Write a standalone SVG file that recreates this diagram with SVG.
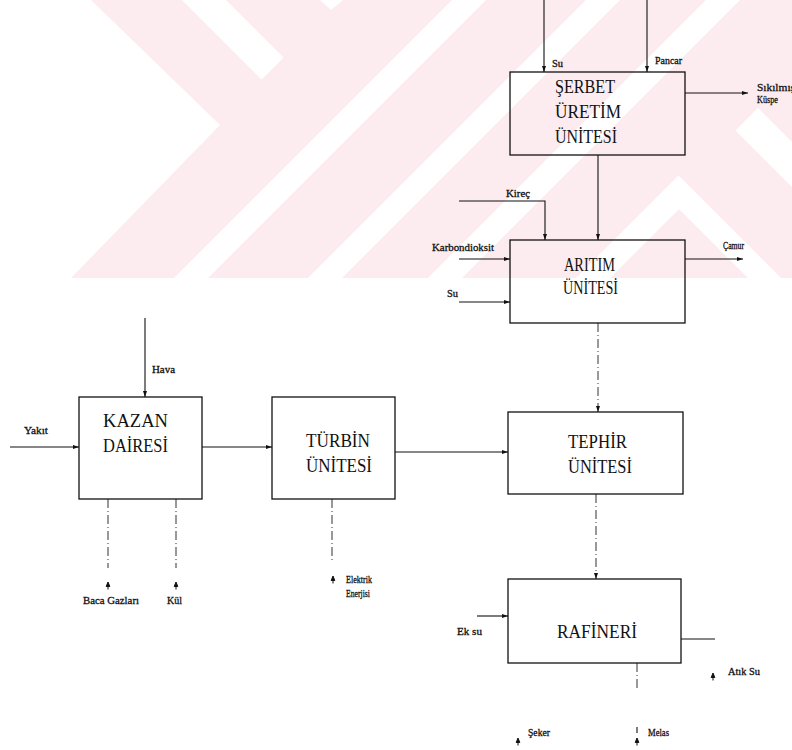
<svg xmlns="http://www.w3.org/2000/svg" width="792" height="750" viewBox="0 0 792 750">
<style>
.box{fill:none;stroke:#111;stroke-width:1.3}
.ln{fill:none;stroke:#111;stroke-width:1.1}
.dd{fill:none;stroke:#333;stroke-width:1;stroke-dasharray:9 3 1 3}
.big{font-family:"Liberation Serif","Times New Roman",serif;font-size:19px;fill:#111}
.sm{font-family:"Liberation Serif","Times New Roman",serif;font-size:10.5px;fill:#111;stroke:#111;stroke-width:0.3}
.wm{fill:#fdecef}
.wh{fill:#fff}
</style>
<defs>
<marker id="ah" viewBox="0 0 6 4" refX="6" refY="2" markerWidth="6" markerHeight="4" orient="auto" markerUnits="userSpaceOnUse"><path d="M0,0 L6,2 L0,4 Z" fill="#111"/></marker>
<path id="up" d="M0,-4 L-1.8,0.5 L1.8,0.5 Z M0,0 V3.5" fill="#111" stroke="#111" stroke-width="1"/>
<clipPath id="wclip"><rect x="0" y="0" width="792" height="278"/></clipPath>
</defs>
<rect width="792" height="750" fill="#fff"/>
<g id="watermark" clip-path="url(#wclip)">
<rect class="wm" x="0" y="0" width="792" height="278"/>
<polygon class="wh" points="0,0 91,0 220,125 71,278 0,278"/>
<polygon class="wh" points="182,0 226,0 283.5,57.5 261.5,79.5"/>
<polygon class="wh" points="320,0 343,0 331,10"/>
<polygon class="wh" points="452,0 486,0 208,278 174,278"/>
<polygon class="wh" points="586,0 620,0 342,278 308,278"/>
<polygon class="wh" points="706,0 740,0 462,278 428,278"/>
<polygon class="wh" points="576,278 678.5,175.5 781,278 748,278 679,209 610,278"/>
<polygon class="wh" points="735.5,130.5 758,108 792,142 792,187"/>
</g>
<g id="connectors">
<line class="ln" x1="544" y1="0" x2="544" y2="72" marker-end="url(#ah)"/>
<line class="ln" x1="647" y1="0" x2="647" y2="72" marker-end="url(#ah)"/>
<line class="ln" x1="685" y1="93" x2="748" y2="93" marker-end="url(#ah)"/>
<line class="ln" x1="598" y1="155" x2="598" y2="240" marker-end="url(#ah)"/>
<polyline class="ln" points="459,201 545,201 545,240" marker-end="url(#ah)"/>
<line class="ln" x1="459" y1="259" x2="510" y2="259" marker-end="url(#ah)"/>
<line class="ln" x1="459" y1="302" x2="510" y2="302" marker-end="url(#ah)"/>
<line class="ln" x1="685" y1="259" x2="743" y2="259" marker-end="url(#ah)"/>
<line class="dd" x1="598" y1="323" x2="598" y2="412" marker-end="url(#ah)"/>
<line class="dd" x1="596" y1="494" x2="596" y2="579" marker-end="url(#ah)"/>
<line class="ln" x1="145" y1="318" x2="145" y2="397" marker-end="url(#ah)"/>
<line class="ln" x1="10" y1="447" x2="79" y2="447" marker-end="url(#ah)"/>
<line class="ln" x1="202" y1="447" x2="272" y2="447" marker-end="url(#ah)"/>
<line class="ln" x1="395" y1="452" x2="508" y2="452" marker-end="url(#ah)"/>
<line class="dd" x1="108" y1="499" x2="108" y2="568"/>
<line class="dd" x1="176" y1="499" x2="176" y2="568"/>
<line class="dd" x1="332" y1="499" x2="332" y2="560"/>
<line class="ln" x1="477" y1="616" x2="508" y2="616" marker-end="url(#ah)"/>
<line class="ln" x1="681" y1="639" x2="715" y2="639"/>
<line class="dd" x1="637" y1="663" x2="637" y2="690"/>
<line class="ln" x1="637" y1="727" x2="637" y2="733" stroke="#555"/>
<use href="#up" x="108" y="586"/>
<use href="#up" x="176" y="586"/>
<use href="#up" x="333" y="580"/>
<use href="#up" x="713" y="677"/>
<use href="#up" x="518" y="742"/>
<use href="#up" x="637" y="742"/>
</g>
<g id="serbet">
<rect class="box" x="510" y="72" width="175" height="83"/>
<text class="big" x="555" y="93" textLength="60" lengthAdjust="spacingAndGlyphs">ŞERBET</text>
<text class="big" x="555" y="118" textLength="66" lengthAdjust="spacingAndGlyphs">ÜRETİM</text>
<text class="big" x="555" y="143" textLength="62" lengthAdjust="spacingAndGlyphs">ÜNİTESİ</text>
</g>
<g id="aritim">
<rect class="box" x="510" y="240" width="175" height="83"/>
<text class="big" x="564" y="271" textLength="51" lengthAdjust="spacingAndGlyphs">ARITIM</text>
<text class="big" x="563" y="294" textLength="55" lengthAdjust="spacingAndGlyphs">ÜNİTESİ</text>
</g>
<g id="kazan">
<rect class="box" x="79" y="397" width="123" height="102"/>
<text class="big" x="103" y="427" textLength="65" lengthAdjust="spacingAndGlyphs">KAZAN</text>
<text class="big" x="103" y="452" textLength="65" lengthAdjust="spacingAndGlyphs">DAİRESİ</text>
</g>
<g id="turbin">
<rect class="box" x="272" y="397" width="123" height="102"/>
<text class="big" x="306" y="447" textLength="64" lengthAdjust="spacingAndGlyphs">TÜRBİN</text>
<text class="big" x="306" y="472" textLength="66" lengthAdjust="spacingAndGlyphs">ÜNİTESİ</text>
</g>
<g id="tephir">
<rect class="box" x="508" y="412" width="175" height="82"/>
<text class="big" x="568" y="448" textLength="59" lengthAdjust="spacingAndGlyphs">TEPHİR</text>
<text class="big" x="568" y="473" textLength="64" lengthAdjust="spacingAndGlyphs">ÜNİTESİ</text>
</g>
<g id="rafineri">
<rect class="box" x="508" y="579" width="173" height="84"/>
<text class="big" x="557" y="638" font-size="20" textLength="80" lengthAdjust="spacingAndGlyphs">RAFİNERİ</text>
</g>
<g id="labels">
<text class="sm" x="552" y="67" textLength="11" lengthAdjust="spacingAndGlyphs">Su</text>
<text class="sm" x="655" y="64" textLength="27" lengthAdjust="spacingAndGlyphs">Pancar</text>
<text class="sm" x="757" y="91" textLength="38" lengthAdjust="spacingAndGlyphs">Sıkılmış</text>
<text class="sm" x="757" y="103" textLength="21" lengthAdjust="spacingAndGlyphs">Küspe</text>
<text class="sm" x="506" y="197" textLength="24" lengthAdjust="spacingAndGlyphs">Kireç</text>
<text class="sm" x="432" y="251" textLength="62" lengthAdjust="spacingAndGlyphs">Karbondioksit</text>
<text class="sm" x="447" y="297" textLength="11" lengthAdjust="spacingAndGlyphs">Su</text>
<text class="sm" x="723" y="249" textLength="21" lengthAdjust="spacingAndGlyphs">Çamur</text>
<text class="sm" x="152" y="373" textLength="23" lengthAdjust="spacingAndGlyphs">Hava</text>
<text class="sm" x="24" y="434" textLength="24" lengthAdjust="spacingAndGlyphs">Yakıt</text>
<text class="sm" x="83" y="604" textLength="56" lengthAdjust="spacingAndGlyphs">Baca Gazları</text>
<text class="sm" x="167" y="604" textLength="15" lengthAdjust="spacingAndGlyphs">Kül</text>
<text class="sm" x="346" y="583" textLength="26" lengthAdjust="spacingAndGlyphs">Elektrik</text>
<text class="sm" x="346" y="597" textLength="24" lengthAdjust="spacingAndGlyphs">Enerjisi</text>
<text class="sm" x="457" y="635" textLength="25" lengthAdjust="spacingAndGlyphs">Ek su</text>
<text class="sm" x="728" y="675" textLength="32" lengthAdjust="spacingAndGlyphs">Atık Su</text>
<text class="sm" x="528" y="736" textLength="22" lengthAdjust="spacingAndGlyphs">Şeker</text>
<text class="sm" x="648" y="736" textLength="21" lengthAdjust="spacingAndGlyphs">Melas</text>
</g>
</svg>
